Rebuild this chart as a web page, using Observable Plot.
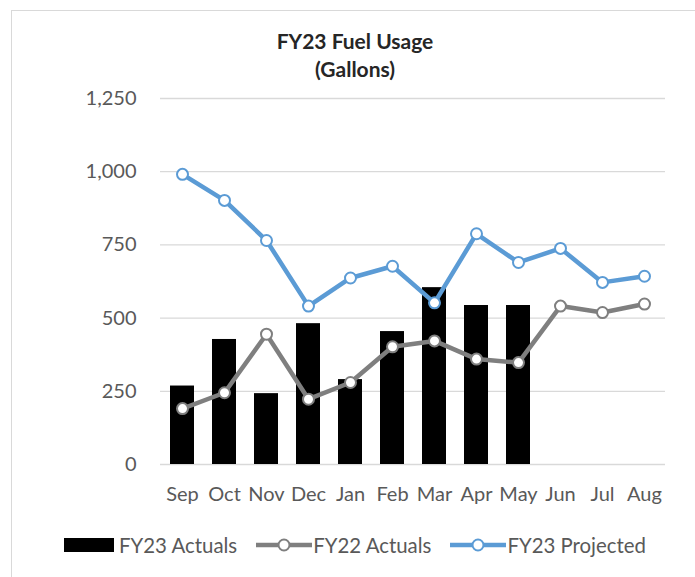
<!DOCTYPE html>
<html>
<head>
<meta charset="utf-8">
<script src="https://cdn.jsdelivr.net/npm/d3@7"></script>
<script src="https://cdn.jsdelivr.net/npm/@observablehq/plot@0.6"></script>
<style>
  html, body { margin: 0; padding: 0; background: #fff; }
  body { width: 695px; height: 577px; overflow: hidden; position: relative; font-family: Lato, "Open Sans", sans-serif; }
  #frame { position: absolute; left: 11px; top: 10px; width: 720px; height: 620px; border: 1.5px solid #d9d9d9; box-sizing: border-box; pointer-events: none; }
  #title { position: relative; width: 695px; box-sizing: border-box; padding-left: 15px; padding-top: 27px; height: 85px; text-align: center; font-weight: bold; font-size: 21px; line-height: 28px; color: #262626; }
  #chart { position: relative; height: 430px; }
  #legend { position: relative; width: 695px; box-sizing: border-box; padding-left: 15px; height: 62px; display: flex; justify-content: center; align-items: center; font-size: 20.4px; color: #595959; padding-bottom: 2px; }
  .item { display: flex; align-items: center; }
  .item svg { display: block; }
</style>
</head>
<body>
<div id="frame"></div>
<div id="title">FY23 Fuel Usage<br>(Gallons)</div>
<div id="chart"></div>
<div id="legend"></div>
<script>
const months = ["Sep", "Oct", "Nov", "Dec", "Jan", "Feb", "Mar", "Apr", "May", "Jun", "Jul", "Aug"];
const fy23Actuals = [268, 427, 242, 481, 290, 454, 604, 543, 543, null, null, null];
const fy22Actuals = [191, 245, 445, 223, 280, 402, 422, 360, 348, 541, 519, 548];
const fy23Projected = [991, 902, 765, 541, 637, 677, 552, 788, 690, 738, 622, 643];
const yTicks = [0, 250, 500, 750, 1000, 1250];
const seriesNames = ["FY23 Actuals", "FY22 Actuals", "FY23 Projected"];
const seriesColors = ["#000000", "#7f7f7f", "#5b9bd5"];

const bars = months.map((m, i) => ({month: m, value: fy23Actuals[i]})).filter(d => d.value != null);
const fy22 = months.map((m, i) => ({month: m, value: fy22Actuals[i]}));
const proj = months.map((m, i) => ({month: m, value: fy23Projected[i]}));

const chart = Plot.plot({
  width: 695,
  height: 430,
  marginLeft: 160,
  marginRight: 30,
  marginTop: 13,
  marginBottom: 51,
  style: {fontFamily: "Lato, 'Open Sans', sans-serif", fontSize: "20px", color: "#595959", background: "transparent", overflow: "visible"},
  x: {domain: months, paddingInner: 0.43, paddingOuter: 0.215, label: null, tickSize: 0, tickPadding: 22},
  y: {domain: [0, 1250], ticks: yTicks, label: null, tickSize: 0, tickPadding: 24, tickFormat: d3.format(",")},
  marks: [
    Plot.ruleY(yTicks, {stroke: "#d9d9d9", strokeWidth: 1.3}),
    Plot.barY(bars, {x: "month", y: "value", fill: seriesColors[0]}),
    Plot.line(fy22, {x: "month", y: "value", stroke: seriesColors[1], strokeWidth: 4.5, strokeLinejoin: "round"}),
    Plot.dot(fy22, {x: "month", y: "value", r: 5.5, fill: "white", stroke: seriesColors[1], strokeWidth: 2}),
    Plot.line(proj, {x: "month", y: "value", stroke: seriesColors[2], strokeWidth: 4.5, strokeLinejoin: "round"}),
    Plot.dot(proj, {x: "month", y: "value", r: 5.5, fill: "white", stroke: seriesColors[2], strokeWidth: 2})
  ]
});
document.getElementById("chart").appendChild(chart);

// Legend
const legend = d3.select("#legend");
seriesNames.forEach((name, i) => {
  const item = legend.append("div").attr("class", "item").style("margin-left", i === 0 ? "0px" : "19px");
  const sw = item.append("svg").attr("width", i === 0 ? 50 : 56).attr("height", 16);
  if (i === 0) {
    sw.append("rect").attr("x", 0).attr("y", 1).attr("width", 50).attr("height", 14).attr("fill", seriesColors[0]);
  } else {
    sw.append("line").attr("x1", 0).attr("x2", 56).attr("y1", 8).attr("y2", 8).attr("stroke", seriesColors[i]).attr("stroke-width", 4.5);
    sw.append("circle").attr("cx", 28).attr("cy", 8).attr("r", 5.5).attr("fill", "white").attr("stroke", seriesColors[i]).attr("stroke-width", 2);
  }
  item.append("span").text(name).style("margin-left", i === 0 ? "5px" : "1px");
});
</script>
</body>
</html>
